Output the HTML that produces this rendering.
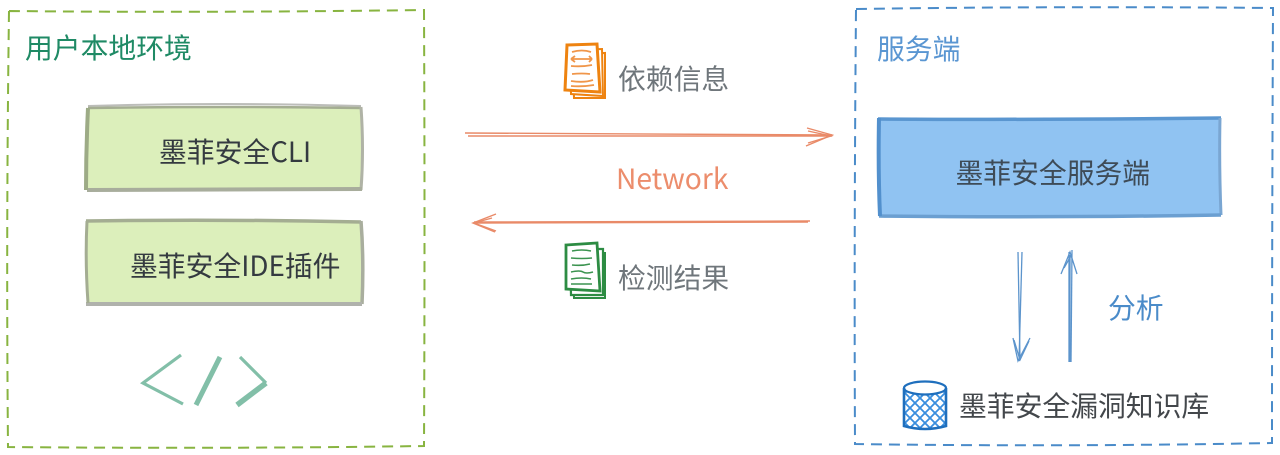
<!DOCTYPE html>
<html lang="zh-CN">
<head>
<meta charset="utf-8">
<title>墨菲安全架构图</title>
<style>
html,body{margin:0;padding:0;background:#fff;width:1280px;height:455px;overflow:hidden}
svg{display:block}
text{font-family:"Noto Sans CJK SC","Liberation Sans",sans-serif;font-size:27.8px}
</style>
</head>
<body>
<svg width="1280" height="455" viewBox="0 0 1280 455" xmlns="http://www.w3.org/2000/svg">
<rect width="1280" height="455" fill="#fff"/>

<!-- dashed containers -->
<path d="M9 11 Q200 13 424 10 Q425 230 424 446 Q220 449 8 447 Q6 230 9 11Z" fill="none" stroke="#88b440" stroke-width="2" stroke-dasharray="11 7"/>
<path d="M856 9 Q1060 6 1273 8 Q1272 230 1272 443 Q1060 447 855 444 Q854 230 856 9Z" fill="none" stroke="#4a8bc9" stroke-width="2" stroke-dasharray="11 7"/>

<!-- titles -->
<text x="25" y="58" fill="#1f8a65">用户本地环境</text>
<text x="877" y="59" fill="#5a96d2">服务端</text>

<!-- CLI box -->
<path d="M88 108 Q220 104 361 108 L361 190 L87 191Z" fill="#dcefbb"/>
<path d="M88 106 Q220 102 361 106" fill="none" stroke="#bcbdb9" stroke-width="2"/>
<path d="M88 108 Q220 106 361 108" fill="none" stroke="#a4ad92" stroke-width="2.5"/>
<path d="M361 107 Q364 150 361 190" fill="none" stroke="#b0b3a6" stroke-width="3"/>
<path d="M87 190 L362 189" fill="none" stroke="#a8ad9c" stroke-width="4"/>
<path d="M88 108 Q86 150 86 190" fill="none" stroke="#9dab86" stroke-width="4"/>
<text x="159" y="162" fill="#343a40">墨菲安全CLI</text>

<!-- IDE box -->
<path d="M87 221 L361 221 L361 304 L87 304Z" fill="#dcefbb"/>
<path d="M86 221 Q220 219 361 222" fill="none" stroke="#a4ad92" stroke-width="3.5"/>
<path d="M361 221 Q364 260 362 304" fill="none" stroke="#a9ae9e" stroke-width="3.5"/>
<path d="M86 304 L362 304" fill="none" stroke="#b0b2ac" stroke-width="4"/>
<path d="M87 221 Q85 260 88 303" fill="none" stroke="#a4ad92" stroke-width="3"/>
<text x="130" y="276" fill="#343a40">墨菲安全IDE插件</text>

<!-- code glyph -->
<g fill="none" stroke="#82bfa8" stroke-linecap="butt">
<path d="M181 355 L143 383 L183 404" stroke-width="3.2"/>
<path d="M220 357 L196 405" stroke-width="5"/>
<path d="M240 357 L266 383" stroke-width="3.2"/>
<path d="M266 383 L237 405" stroke-width="5.5"/>
</g>

<!-- orange doc -->
<g fill="#fff" stroke="#ee8310">
<path d="M573 55 L605 53 L605 98 L574 98Z" stroke-width="2"/>
<path d="M570 50 L602 49 L603 96 L571 94Z" stroke-width="2"/>
<path d="M567 45 L597 44 L600 92 L565 90Z" stroke-width="3"/>
</g>
<g fill="none" stroke="#f0964a" stroke-width="1.8">
<path d="M572 52 Q582 49 591 52"/><path d="M571 59 L592 59 M571 59 L575 56 M571 59 L575 62 M592 59 L589 56 M592 59 L589 62"/>
<path d="M571 66 Q582 67 592 65"/><path d="M572 74 Q582 73 590 74"/><path d="M571 81 Q584 83 593 80"/><path d="M571 86 Q582 87 594 85"/>
</g>

<text x="618" y="89" fill="#6f767b">依赖信息</text>

<!-- top arrow -->
<g fill="none" stroke="#e98a68" stroke-width="1.4">
<path d="M465 133 L832 135"/><path d="M468 136 L832 136"/>
<path d="M807 128 L832 135 L806 146"/><path d="M808 131 L831 136 L808 143"/>
</g>

<text x="616" y="189" fill="#ec8d6c" style="font-size:28.2px">Network</text>

<!-- bottom arrow -->
<g fill="none" stroke="#e98a68" stroke-width="1.4">
<path d="M810 221 L474 222"/><path d="M808 222 L474 223"/>
<path d="M496 214 L473 223 L495 232"/><path d="M492 218 L474 223 L496 231"/>
</g>

<!-- green doc -->
<g fill="#fff" stroke="#2d8c43">
<path d="M573 253 L605 253 L605 298 L574 298Z" stroke-width="2"/>
<path d="M570 249 L603 249 L603 295 L571 295Z" stroke-width="2.2"/>
<path d="M566 245 L597 243 L600 291 L566 289Z" stroke-width="2.8"/>
</g>
<g fill="none" stroke="#3c9450" stroke-width="1.6">
<path d="M572 251 Q582 249 591 251"/><path d="M571 258 Q582 259 592 258"/><path d="M572 265 Q582 266 590 264"/>
<path d="M571 272 Q580 270 583 272 T593 272"/><path d="M571 279 Q582 277 591 279"/><path d="M571 284 L592 284"/>
</g>

<text x="618" y="288" fill="#6f767b">检测结果</text>

<!-- server box -->
<path d="M879 119 L1220 119 L1220 215 L879 216Z" fill="#90c3f2"/>
<path d="M878 119 Q1040 120 1221 118" fill="none" stroke="#5a96d0" stroke-width="3.5"/>
<path d="M1220 118 Q1219 165 1221 215" fill="none" stroke="#7aa6d2" stroke-width="3"/>
<path d="M879 216 Q1040 218 1221 215" fill="none" stroke="#6b9fd1" stroke-width="3.5"/>
<path d="M879 118 Q878 170 880 216" fill="none" stroke="#5290cd" stroke-width="4"/>
<text x="955.500" y="183" fill="#3e4b57">墨菲安全服务端</text>

<!-- vertical arrows -->
<g fill="none" stroke="#5c94cc" stroke-width="1.3">
<path d="M1018 252 L1020 360"/><path d="M1022 252 L1019 361"/>
<path d="M1013 338 L1018 361 L1030 338"/><path d="M1014 340 L1020 360 L1029 341"/>
<path d="M1069 252 L1069 362"/><path d="M1072 250 L1071 362"/><path d="M1070 255 L1070 362"/>
<path d="M1061 274 L1070 252 L1077 274"/><path d="M1064 268 L1072 254"/>
</g>
<text x="1108" y="318" fill="#4a8bc9">分析</text>

<!-- database -->
<clipPath id="c"><path d="M905 389 L946 389 L946 426 Q925 432 905 426Z"/></clipPath>
<path d="M905 387 L946 387 L946 426 Q925 432 905 426Z" fill="#fff"/>
<g clip-path="url(#c)" stroke="#3a8ede" stroke-width="1.8">
<path d="M890 398 L930 438 M890 388 L940 438 M896 384 L950 438 M906 384 L960 438 M916 384 L960 428 M926 384 L960 418 M936 384 L960 408 M890 408 L920 438"/>
<path d="M960 398 L920 438 M960 388 L910 438 M954 384 L900 438 M944 384 L890 438 M934 384 L890 428 M924 384 L890 418 M914 384 L890 408 M960 408 L930 438"/>
</g>
<g fill="none" stroke="#1f6fbd">
<ellipse cx="925" cy="388" rx="21" ry="6.5" stroke-width="2.2" fill="#fff"/>
<path d="M904 388 L904 426 Q925 432 946 426 L946 388" stroke-width="2.6"/>
</g>
<text x="959" y="416" fill="#43474b">墨菲安全漏洞知识库</text>
</svg>
</body>
</html>
